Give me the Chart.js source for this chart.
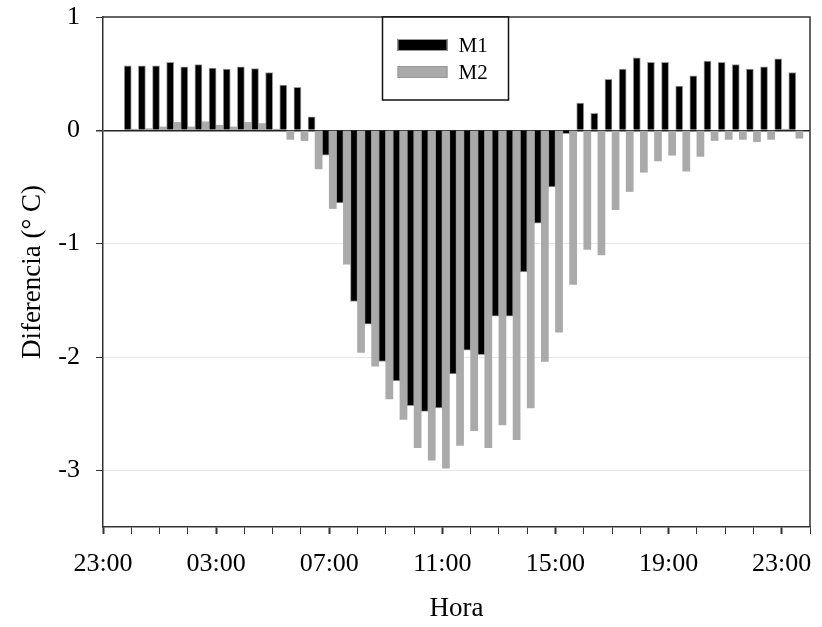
<!DOCTYPE html>
<html>
<head>
<meta charset="utf-8">
<script src="https://cdn.jsdelivr.net/npm/chart.js@4.4.1/dist/chart.umd.min.js"></script>
<style>
  html, body { margin: 0; padding: 0; background: #fff; }
</style>
</head>
<body>
<canvas id="barChart" width="822" height="627"></canvas>
<script>
// half-hour slots (axis starts at 23:00 of the previous day)
var horas = ["00:00","00:30","01:00","01:30","02:00","02:30","03:00","03:30",
             "04:00","04:30","05:00","05:30","06:00","06:30","07:00","07:30",
             "08:00","08:30","09:00","09:30","10:00","10:30","11:00","11:30",
             "12:00","12:30","13:00","13:30","14:00","14:30","15:00","15:30",
             "16:00","16:30","17:00","17:30","18:00","18:30","19:00","19:30",
             "20:00","20:30","21:00","21:30","22:00","22:30","23:00","23:30"];

var m1 = [0.57, 0.57, 0.57, 0.60, 0.56, 0.58, 0.55, 0.54, 0.56, 0.545, 0.51, 0.40,
          0.38, 0.12, -0.22, -0.64, -1.51, -1.71, -2.04, -2.21, -2.43, -2.48, -2.45, -2.15,
          -1.94, -1.98, -1.64, -1.64, -1.25, -0.82, -0.50, -0.03, 0.24, 0.15, 0.45, 0.54,
          0.64, 0.60, 0.60, 0.39, 0.48, 0.61, 0.60, 0.58, 0.54, 0.56, 0.63, 0.51];

var m2 = [0.01, 0.015, 0.03, 0.07, 0.03, 0.075, 0.045, 0.03, 0.07, 0.06, 0.01, -0.08,
          -0.09, -0.34, -0.69, -1.18, -1.96, -2.08, -2.37, -2.55, -2.80, -2.91, -2.98, -2.78,
          -2.65, -2.80, -2.60, -2.73, -2.45, -2.04, -1.78, -1.36, -1.05, -1.10, -0.70, -0.54,
          -0.37, -0.27, -0.22, -0.36, -0.23, -0.09, -0.08, -0.08, -0.10, -0.08, 0.01, -0.07];

var etiquetasX = ["23:00","03:00","07:00","11:00","15:00","19:00","23:00"];
var etiquetasY = [1, 0, -1, -2, -3];

// hours since 23:00
function aHoras(h) {
    var p = h.split(":");
    return Number(p[0]) + Number(p[1]) / 60 + 1;
}

var FONT = "'Liberation Serif', 'Times New Roman', serif";

// box around the plot + legend box
var marco = {
    id: "marco",
    afterDraw: function(chart) {
        var ctx = chart.ctx, a = chart.chartArea;
        ctx.save();
        ctx.strokeStyle = "#333";
        ctx.lineWidth = 1.5;
        ctx.beginPath();
        ctx.moveTo(a.left, a.top);
        ctx.lineTo(a.right, a.top);
        ctx.lineTo(a.right, a.bottom);
        ctx.stroke();

        // legend
        var x0 = 382.5, y0 = a.top, w = 126, h = 83;
        ctx.fillStyle = "#fff";
        ctx.fillRect(x0, y0, w, h);
        ctx.strokeStyle = "#111";
        ctx.lineWidth = 1.5;
        ctx.strokeRect(x0, y0, w, h);
        chart.data.datasets.forEach(function(ds, i) {
            var yy = y0 + 28 + i * 27;
            ctx.fillStyle = ds.backgroundColor;
            ctx.fillRect(x0 + 15, yy - 6, 50, 12);
            ctx.strokeStyle = "#999";
            ctx.lineWidth = 1;
            ctx.strokeRect(x0 + 15.5, yy - 5.5, 49, 11);
            ctx.fillStyle = "#000";
            ctx.font = "21px " + FONT;
            ctx.textBaseline = "middle";
            ctx.fillText(ds.label, x0 + 76, yy + 1);
        });
        ctx.restore();
    }
};

var CHART = document.getElementById("barChart");
var barChart = new Chart(CHART, {
    type: "bar",
    data: {
        datasets: [
            {
                label: "M1",
                data: horas.map(function(h, i) { return {x: aHoras(h), y: m1[i]}; }),
                backgroundColor: "#000000",
                borderColor: "#9a9a9a",
                borderWidth: 1,
                categoryPercentage: 1,
                barPercentage: 1
            },
            {
                label: "M2",
                data: horas.map(function(h, i) { return {x: aHoras(h), y: m2[i]}; }),
                backgroundColor: "#aaaaaa",
                borderWidth: 0,
                categoryPercentage: 1,
                barPercentage: 1
            }
        ]
    },
    options: {
        responsive: false,
        animation: false,
        layout: { padding: { left: 0, right: 12, top: 17, bottom: 0 } },
        plugins: { legend: { display: false }, tooltip: { enabled: false } },
        scales: {
            x: {
                type: "linear",
                min: 0,
                max: 25,
                offset: false,
                afterFit: function(s) { s.height = 100; s.paddingRight = 0; },
                border: { color: "#333", width: 1.5 },
                grid: {
                    offset: false,
                    drawOnChartArea: false,
                    tickLength: 7,
                    tickColor: "#333",
                    tickWidth: function(c) { return c.tick && c.tick.value % 4 === 0 ? 2 : 1; }
                },
                ticks: {
                    stepSize: 1,
                    autoSkip: false,
                    maxRotation: 0,
                    padding: 15,
                    color: "#000",
                    font: { family: FONT, size: 26 },
                    callback: function(v) { return v % 4 === 0 ? etiquetasX[v / 4] : ""; }
                },
                title: {
                    display: true,
                    text: "Hora",
                    color: "#000",
                    font: { family: FONT, size: 27 },
                    padding: { top: 0, bottom: 2 }
                }
            },
            y: {
                min: -3.5,
                max: 1,
                afterFit: function(s) { s.width = 103; s.paddingTop = 0; s.paddingBottom = 0; },
                border: { color: "#333", width: 1.5 },
                grid: {
                    tickLength: 7,
                    tickColor: "#333",
                    color: function(c) {
                        var v = c.tick ? c.tick.value : null;
                        if (v === 0) return "#222";
                        if (v === 1) return "rgba(0,0,0,0)";
                        return "#e6e6e6";
                    },
                    lineWidth: function(c) { return c.tick && c.tick.value === 0 ? 1.5 : 1; }
                },
                ticks: {
                    stepSize: 1,
                    includeBounds: false,
                    padding: 16,
                    color: "#000",
                    font: { family: FONT, size: 26 },
                    callback: function(v) { return etiquetasY.indexOf(v) >= 0 ? String(v) : ""; }
                },
                title: {
                    display: true,
                    text: "Diferencia (° C)",
                    color: "#000",
                    font: { family: FONT, size: 27 },
                    padding: { top: 17, bottom: 0 }
                }
            }
        }
    },
    plugins: [marco]
});
</script>
</body>
</html>
